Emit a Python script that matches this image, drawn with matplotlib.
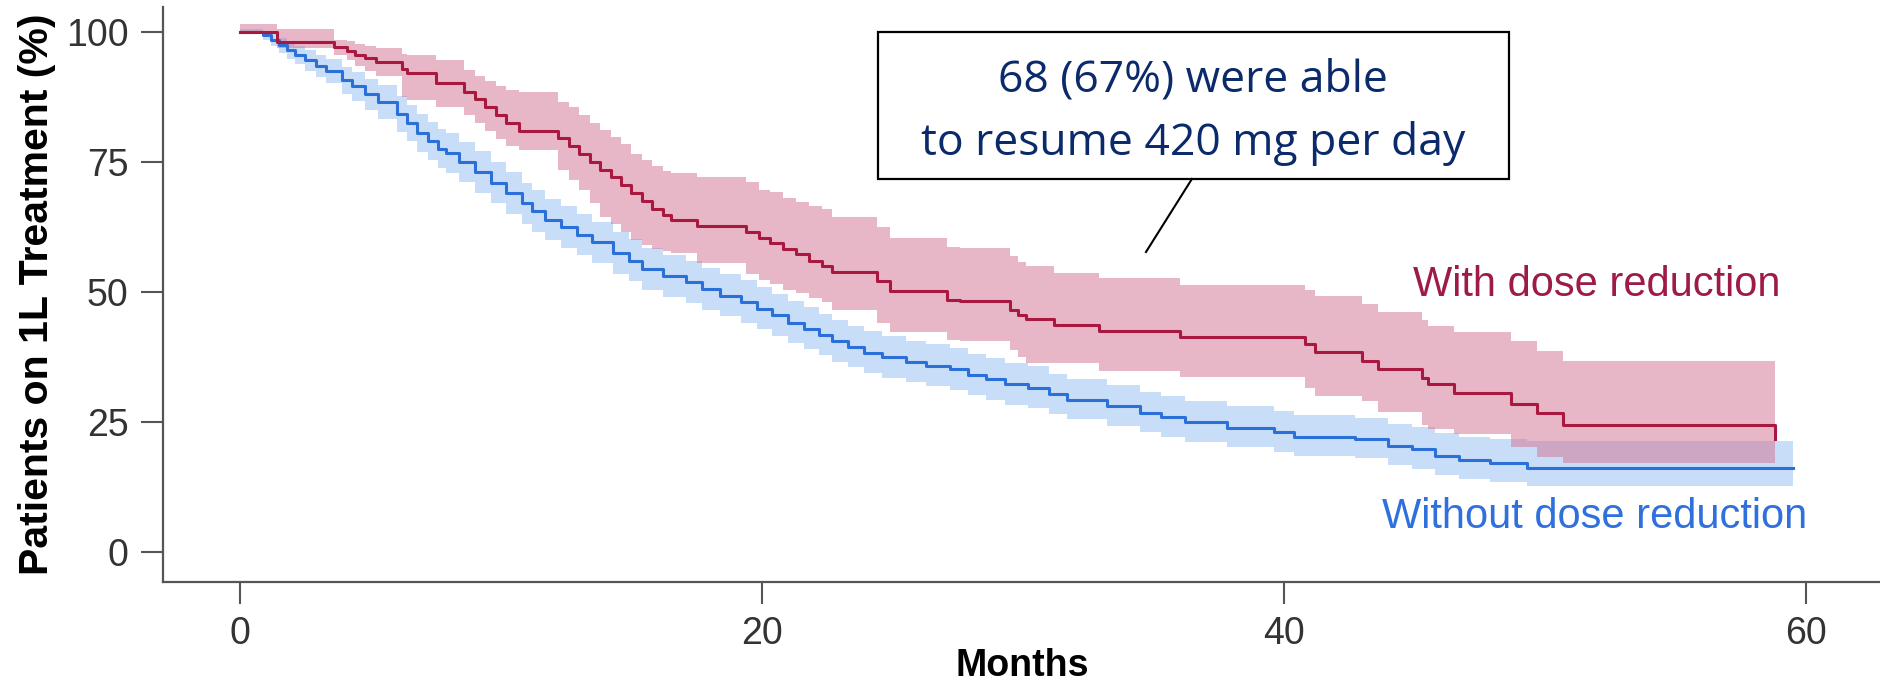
import matplotlib
matplotlib.use("Agg")
import matplotlib.pyplot as plt
from matplotlib.patches import Rectangle

# Kaplan-Meier estimates (months, % on 1L treatment)
red_t = [0, 1.4, 3.6, 4.1, 4.4, 4.8, 5.2, 6.2, 6.4, 7.5, 8.6, 9.0, 9.4, 9.8,
         10.2, 10.7, 12.2, 12.6, 13.0, 13.4, 13.8, 14.2, 14.6, 15.0, 15.4,
         15.8, 16.2, 16.5, 17.5, 19.4, 19.9, 20.3, 20.8, 21.3, 21.8, 22.3,
         22.7, 24.4, 24.9, 27.1, 27.6, 29.5, 29.8, 30.1, 31.2, 32.9, 36.0,
         40.8, 41.2, 43.0, 43.6, 45.3, 45.5, 46.5, 48.7, 49.7, 50.7, 58.8]
red_s = [100, 98.1, 97.1, 96.2, 95.5, 94.9, 94.2, 92.9, 92.0, 90.1, 88.5,
         87.0, 85.5, 84.0, 82.5, 81.0, 79.5, 78.0, 76.5, 75.0, 73.4, 72.0,
         70.5, 69.0, 67.4, 66.0, 64.8, 63.9, 62.7, 61.5, 60.4, 59.3, 58.2,
         57.2, 56.0, 54.9, 53.9, 52.0, 50.1, 48.5, 48.2, 46.5, 45.5, 44.7,
         43.7, 42.4, 41.3, 39.9, 38.4, 36.7, 35.1, 33.5, 32.2, 30.6, 28.4,
         26.8, 24.4, 21.7]
red_lo = [99.8, 96.8, 95.5, 94.5, 93.5, 92.5, 91.5, 87.5, 86.9, 85.5, 84.0,
          82.5, 81.0, 79.3, 78.0, 77.3, 73.5, 71.5, 69.5, 67.0, 64.4, 63.0,
          61.5, 60.0, 59.0, 58.2, 57.8, 57.5, 55.6, 53.5, 52.3, 51.5, 50.4,
          49.8, 48.8, 48.0, 46.5, 44.0, 42.2, 40.8, 40.5, 38.9, 37.5, 36.4,
          36.4, 34.8, 33.6, 31.6, 30.0, 29.0, 27.0, 24.5, 23.6, 22.6, 20.1,
          18.2, 17.2, 17.2]
red_hi = [101.5, 100.5, 98.5, 98.2, 97.7, 97.3, 96.8, 95.8, 95.5, 94.5, 92.6,
          91.5, 90.5, 89.5, 88.8, 88.4, 86.5, 85.5, 84.0, 82.5, 81.1, 79.8,
          78.4, 76.5, 75.4, 74.2, 73.2, 72.9, 72.0, 71.1, 69.5, 69.2, 68.0,
          67.3, 66.5, 66.0, 64.4, 62.5, 60.4, 58.7, 58.5, 56.8, 55.8, 54.9,
          53.7, 52.7, 51.4, 50.4, 49.2, 47.6, 46.2, 44.5, 43.5, 42.2, 40.5,
          38.6, 36.7, 36.7]

blue_t = [0, 0.9, 1.2, 1.5, 1.8, 2.1, 2.5, 2.9, 3.3, 3.9, 4.3, 4.8, 5.3, 6.0,
          6.4, 6.8, 7.2, 7.6, 7.9, 8.4, 9.0, 9.6, 10.2, 10.8, 11.2, 11.7,
          12.3, 12.9, 13.5, 14.3, 14.9, 15.4, 16.2, 17.1, 17.7, 18.4, 19.2,
          19.8, 20.4, 21.0, 21.6, 22.2, 22.7, 23.3, 23.9, 24.6, 25.5, 26.3,
          27.2, 27.9, 28.6, 29.3, 30.2, 31.0, 31.7, 33.2, 34.5, 35.3, 36.2,
          37.8, 39.6, 40.4, 42.7, 44.0, 44.9, 45.8, 46.7, 47.9, 49.3, 59.5]
blue_s = [100, 99.3, 98.5, 97.5, 96.5, 95.5, 94.5, 93.5, 92.5, 90.7, 89.5,
          88.0, 86.5, 84.2, 82.5, 80.5, 79.0, 77.5, 76.7, 75.0, 73.0, 71.0,
          69.0, 67.0, 65.5, 63.9, 62.5, 61.0, 59.5, 57.5, 56.0, 54.3, 53.0,
          51.8, 50.5, 49.3, 48.1, 46.8, 45.5, 44.1, 42.9, 41.7, 40.5, 39.4,
          38.3, 37.4, 36.5, 35.8, 35.1, 34.0, 33.2, 32.2, 31.6, 30.3, 29.3,
          28.1, 26.8, 25.9, 24.9, 23.9, 23.0, 22.2, 21.7, 20.4, 19.75, 18.5,
          17.7, 17.1, 16.2, 16.2]
blue_lo = [99.5, 98.5, 97.3, 96.0, 94.8, 93.7, 92.5, 91.3, 90.1, 88.0, 86.6,
           85.0, 83.3, 80.8, 79.0, 76.9, 75.3, 73.8, 72.9, 71.1, 69.0, 67.0,
           65.0, 63.0, 61.5, 59.9, 58.5, 57.0, 55.5, 53.5, 52.0, 50.3, 49.0,
           47.8, 46.5, 45.3, 44.1, 42.8, 41.5, 40.2, 39.0, 37.8, 36.6, 35.5,
           34.4, 33.5, 32.6, 31.9, 31.2, 30.1, 29.3, 28.3, 27.7, 26.5, 25.5,
           24.3, 23.0, 22.1, 21.2, 20.2, 19.3, 18.5, 18.0, 16.7, 16.0, 14.8,
           14.0, 13.4, 12.7, 12.7]
blue_hi = [100.5, 100.0, 99.5, 98.8, 98.0, 97.2, 96.4, 95.6, 94.8, 93.3, 92.3,
           91.0, 89.7, 87.6, 86.0, 84.1, 82.7, 81.3, 80.5, 78.9, 77.0, 75.0,
           73.0, 71.0, 69.5, 67.9, 66.5, 65.0, 63.5, 61.6, 60.1, 58.4, 57.1,
           55.9, 54.6, 53.4, 52.2, 50.9, 49.6, 48.2, 47.0, 45.8, 44.6, 43.5,
           42.4, 41.5, 40.6, 39.9, 39.2, 38.1, 37.3, 36.3, 35.7, 34.3, 33.3,
           32.1, 30.8, 29.9, 29.0, 28.0, 27.1, 26.3, 25.8, 24.6, 24.0, 22.8,
           22.2, 21.7, 21.3, 21.3]

x_ticks = [0, 20, 40, 60]
y_ticks = [0, 25, 50, 75, 100]

RED = "#a8183f"
BLUE = "#2b6fd8"
GREY = "#555555"
NAVY = "#0b2a6b"
ARIAL = ["Liberation Sans", "DejaVu Sans"]

fig = plt.figure(figsize=(18.81, 6.87), dpi=100)
ax = fig.add_axes([0.0865, 0.1528, 0.9135, 0.837])

ax.fill_between(blue_t, blue_lo, blue_hi, step="post",
                color="#c8def8", lw=0, zorder=1)
ax.fill_between(red_t, red_lo, red_hi, step="post",
                color="#d26c8d", alpha=0.49, lw=0, zorder=2)
ax.step(blue_t, blue_s, where="post", color=BLUE, lw=2.2, zorder=3)
ax.step(red_t, red_s, where="post", color=RED, lw=2.2, zorder=4)

ax.set_xlim(-2.96, 62.87)
ax.set_ylim(-5.77, 104.75)
ax.set_xticks(x_ticks)
ax.set_yticks(y_ticks)
ax.tick_params(axis="both", length=16, width=1.5, pad=8.5, color=GREY,
               labelsize=27, labelcolor="#333333")
for lab in ax.get_xticklabels() + ax.get_yticklabels():
    lab.set_family(ARIAL)

for side in ["top", "right"]:
    ax.spines[side].set_visible(False)
for side in ["left", "bottom"]:
    ax.spines[side].set_color(GREY)
    ax.spines[side].set_linewidth(1.6)

ax.set_xlabel("Months", fontsize=27, fontweight="bold", family=ARIAL,
              labelpad=-3)
ax.set_ylabel("Patients on 1L Treatment (%)", fontsize=29.5,
              fontweight="bold", family=ARIAL, labelpad=7)

# curve labels
ax.text(51.97, 51.3, "With dose reduction", color="#9e1b47", fontsize=30,
        family=ARIAL, ha="center", va="center")
ax.text(51.9, 6.7, "Without dose reduction", color="#2f70dc", fontsize=30,
        family=ARIAL, ha="center", va="center")

# call-out box
ax.add_patch(Rectangle((24.46, 71.7), 24.15, 28.3, fill=True, fc="white",
                       ec="black", lw=1.6, zorder=5))
ax.text(36.5, 88.5, "68 (67%) were able", color=NAVY, fontsize=32,
        family=["Open Sans", "DejaVu Sans"], ha="center", va="baseline",
        zorder=6)
ax.text(36.5, 76.4, "to resume 420 mg per day", color=NAVY, fontsize=32,
        family=["Open Sans", "DejaVu Sans"], ha="center", va="baseline",
        zorder=6)
ax.plot([36.47, 34.71], [71.7, 57.66], color="black", lw=1.5, zorder=5)

fig.savefig("out.png", dpi=100)
